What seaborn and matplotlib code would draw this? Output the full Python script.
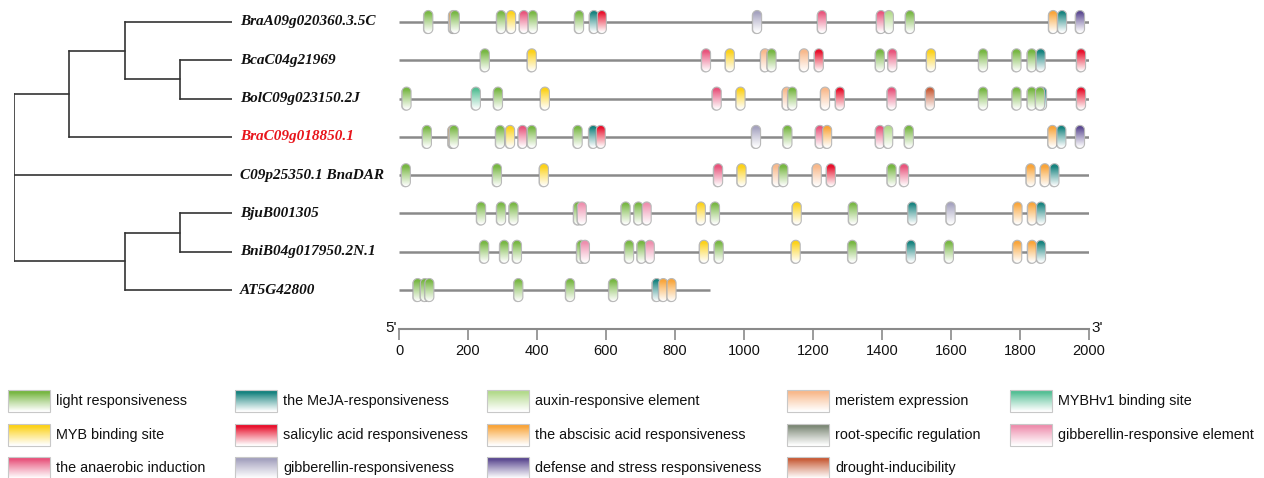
import numpy as np
import matplotlib
matplotlib.use('Agg')
import matplotlib.pyplot as plt
import matplotlib.colors as mcolors
from matplotlib.path import Path
from matplotlib.patches import PathPatch, Rectangle
import seaborn as sns

sns.set_style('white')
plt.rcParams['font.family'] = ['Liberation Sans', 'DejaVu Sans']
plt.rcParams['text.color'] = '#111111'
plt.rcParams['xtick.labelcolor'] = '#111111'

# ------------------------------------------------------------
# data
# ------------------------------------------------------------
genes = ['BraA09g020360.3.5C', 'BcaC04g21969', 'BolC09g023150.2J',
         'BraC09g018850.1', 'C09p25350.1 BnaDAR', 'BjuB001305',
         'BniB04g017950.2N.1', 'AT5G42800']
gene_len = [2000, 2000, 2000, 2000, 2000, 2000, 2000, 900]
label_colors = ['#111111', '#111111', '#111111', '#e8141b',
                '#111111', '#111111', '#111111', '#111111']

elem_keys = ['light', 'MeJA', 'auxin', 'meristem', 'MYBHv1',
             'MYB', 'SA', 'ABA', 'root', 'GAe',
             'anaer', 'GA', 'defense', 'drought']
elem_names = ['light responsiveness', 'the MeJA-responsiveness', 'auxin-responsive element',
              'meristem expression', 'MYBHv1 binding site',
              'MYB binding site', 'salicylic acid responsiveness', 'the abscisic acid responsiveness',
              'root-specific regulation', 'gibberellin-responsive element',
              'the anaerobic induction', 'gibberellin-responsiveness',
              'defense and stress responsiveness', 'drought-inducibility']
elem_colors = ['#78b743', '#17837f', '#b3da8c', '#f8b98c', '#55bf95',
               '#fcd21a', '#e8112d', '#f9a53a', '#7e8a78', '#ee8fae',
               '#e8557d', '#a5a2bf', '#5d4b92', '#c85e3a']

# cis-element positions (bp) and type, per promoter
bra_a09 = [(85, 'light'), (157, 'ABA'), (162, 'light'), (296, 'light'), (325, 'MYB'),
           (362, 'anaer'), (388, 'light'), (522, 'light'), (565, 'MeJA'), (588, 'SA'),
           (1038, 'GA'), (1226, 'anaer'), (1397, 'anaer'), (1420, 'auxin'), (1481, 'light'),
           (1896, 'ABA'), (1922, 'MeJA'), (1974, 'defense')]
bca_c04 = [(249, 'light'), (385, 'MYB'), (890, 'anaer'), (959, 'MYB'), (1061, 'meristem'),
           (1080, 'light'), (1174, 'meristem'), (1217, 'SA'), (1394, 'light'), (1430, 'anaer'),
           (1542, 'MYB'), (1693, 'light'), (1790, 'light'), (1834, 'light'), (1860, 'MeJA'),
           (1977, 'SA')]
bol_c09 = [(22, 'light'), (223, 'MYBHv1'), (287, 'light'), (423, 'MYB'), (921, 'anaer'),
           (990, 'MYB'), (1124, 'meristem'), (1140, 'light'), (1235, 'meristem'), (1278, 'SA'),
           (1428, 'anaer'), (1539, 'drought'), (1693, 'light'), (1790, 'light'), (1834, 'light'),
           (1864, 'MeJA'), (1858, 'light'), (1977, 'SA')]
bra_c09 = [(81, 'light'), (155, 'ABA'), (159, 'light'), (293, 'light'), (322, 'MYB'),
           (358, 'anaer'), (385, 'light'), (518, 'light'), (563, 'MeJA'), (585, 'SA'),
           (1035, 'GA'), (1126, 'light'), (1220, 'anaer'), (1241, 'ABA'), (1394, 'anaer'),
           (1418, 'auxin'), (1478, 'light'), (1894, 'ABA'), (1920, 'MeJA'), (1974, 'defense')]
bna_dar = [(20, 'light'), (284, 'light'), (420, 'MYB'), (925, 'anaer'), (993, 'MYB'),
           (1095, 'meristem'), (1114, 'light'), (1211, 'meristem'), (1252, 'SA'), (1428, 'light'),
           (1464, 'anaer'), (1831, 'ABA'), (1872, 'ABA'), (1900, 'MeJA')]
bju_b = [(238, 'light'), (296, 'light'), (332, 'light'), (519, 'light'), (530, 'GAe'),
         (657, 'light'), (694, 'light'), (718, 'GAe'), (875, 'MYB'), (916, 'light'),
         (1153, 'MYB'), (1316, 'light'), (1488, 'MeJA'), (1599, 'GA'), (1793, 'ABA'),
         (1835, 'ABA'), (1861, 'MeJA')]
bni_b04 = [(247, 'light'), (305, 'light'), (342, 'light'), (528, 'light'), (539, 'GAe'),
           (667, 'light'), (703, 'light'), (727, 'GAe'), (884, 'MYB'), (927, 'light'),
           (1150, 'MYB'), (1314, 'light'), (1484, 'MeJA'), (1594, 'light'), (1792, 'ABA'),
           (1835, 'ABA'), (1861, 'MeJA')]
at5g = [(54, 'light'), (75, 'light'), (88, 'light'), (346, 'light'), (496, 'light'),
        (621, 'light'), (747, 'MeJA'), (766, 'ABA'), (790, 'ABA')]
elements = [bra_a09, bca_c04, bol_c09, bra_c09, bna_dar, bju_b, bni_b04, at5g]

# tree: internal node -> children (int = leaf row), node depth
tree_children = {'root': ['A', 4, 'B'], 'A': ['A1', 3], 'A1': [0, 'A11'],
                 'A11': [1, 2], 'B': ['B1', 7], 'B1': [5, 6]}
tree_depth = {'root': 0, 'A': 55, 'A1': 111, 'A11': 166, 'B': 111, 'B1': 166}
leaf_depth = 218

color_of = dict(zip(elem_keys, elem_colors))

# ------------------------------------------------------------
# layout
# ------------------------------------------------------------
W, H = 1264, 478
fig = plt.figure(figsize=(W / 100, H / 100), dpi=100)

row0_px, row_step = 22, 38.29
axis_px = 329
y_top = -row0_px / row_step
y_bot = (axis_px - row0_px) / row_step
x_left_px, x_right_px = 399, 1089

ax = fig.add_axes([x_left_px / W, (H - axis_px) / H, (x_right_px - x_left_px) / W, axis_px / H])
ax_tree = fig.add_axes([14 / W, (H - axis_px) / H, (232 - 14) / W, axis_px / H])
ax_leg = fig.add_axes([0, 0, 1, (H - 380) / H])

units_per_px_x = 2000 / (x_right_px - x_left_px)
units_per_px_y = 1 / row_step


def gradient(color, n=64):
    rgb = np.array(mcolors.to_rgb(color))
    t = np.linspace(0, 1, n)
    f = np.clip((t - 0.12) / 0.85, 0, 1) ** 0.9
    arr = rgb[None, :] * (1 - f[:, None]) + f[:, None]
    return arr[:, None, :]


def capsule(xc, yc, w_px=9, h_px=23):
    rx = w_px / 2 * units_per_px_x
    ry = w_px / 2 * units_per_px_y
    h = h_px * units_per_px_y
    top_c = yc - h / 2 + ry
    bot_c = yc + h / 2 - ry
    a1 = np.linspace(0, np.pi, 24)
    a2 = np.linspace(np.pi, 2 * np.pi, 24)
    xs = np.concatenate([xc + rx * np.cos(a1), xc + rx * np.cos(a2)])
    ys = np.concatenate([top_c - ry * np.sin(a1), bot_c - ry * np.sin(a2)])
    verts = np.column_stack([xs, ys])
    verts = np.vstack([verts, verts[:1]])
    return Path(verts, closed=True), (xc - rx, xc + rx, yc + h / 2, yc - h / 2)


# ------------------------------------------------------------
# promoter lines and elements
# ------------------------------------------------------------
rows = np.arange(len(genes))
ax.hlines(rows, 0, gene_len, color='#8a8a8a', lw=1.8, zorder=1)

z = 2
for r, elems in enumerate(elements):
    for pos, key in elems:
        shp, _ = capsule(pos - 0.9 * units_per_px_x, r + 0.6 * units_per_px_y)
        ax.add_patch(PathPatch(shp, facecolor='#6a6a6a', edgecolor='none', alpha=0.4, zorder=z))
        path, ext = capsule(pos, r)
        im = ax.imshow(gradient(color_of[key]), extent=ext, aspect='auto',
                       interpolation='bilinear', zorder=z + 0.1)
        patch = PathPatch(path, facecolor='none', edgecolor='#b9b9b9', lw=0.8, zorder=z + 0.2)
        ax.add_patch(patch)
        im.set_clip_path(patch)
        z += 1

ax.set_xlim(0, 2000)
ax.set_ylim(y_bot, y_top)
ax.set_yticks([])
ax.set_xticks(np.arange(0, 2001, 200))
ax.tick_params(axis='x', direction='out', length=8, width=1.2, color='#8a8a8a',
               labelsize=10.5, pad=3, bottom=True)
for s in ['top', 'left', 'right']:
    ax.spines[s].set_visible(False)
ax.spines['bottom'].set_color('#8a8a8a')
ax.spines['bottom'].set_linewidth(1.5)
ax.patch.set_alpha(0)
ax.annotate("5'", xy=(0, 0), xycoords='axes fraction', xytext=(-1.5, 1),
            textcoords='offset points', ha='right', va='center', fontsize=11)
ax.annotate("3'", xy=(1, 0), xycoords='axes fraction', xytext=(1.5, 1),
            textcoords='offset points', ha='left', va='center', fontsize=11)

# ------------------------------------------------------------
# tree
# ------------------------------------------------------------
def node_y(n):
    if isinstance(n, int):
        return float(n)
    ys = [node_y(c) for c in tree_children[n]]
    return (ys[0] + ys[-1]) / 2


def node_x(n):
    return leaf_depth if isinstance(n, int) else tree_depth[n]


for n, kids in tree_children.items():
    x0 = tree_depth[n]
    ys = [node_y(c) for c in kids]
    ax_tree.plot([x0, x0], [min(ys), max(ys)], color='#333333', lw=1.2, solid_capstyle='projecting')
    for c, yc in zip(kids, ys):
        ax_tree.plot([x0, node_x(c)], [yc, yc], color='#333333', lw=1.2)

for r, g in enumerate(genes):
    ax_tree.text(leaf_depth + 8, r, g, ha='left', va='center', fontsize=11,
                 fontweight='bold', fontstyle='italic', family=['Liberation Serif', 'DejaVu Serif'],
                 color=label_colors[r], clip_on=False)
ax_tree.set_xlim(0, leaf_depth)
ax_tree.set_ylim(y_bot, y_top)
ax_tree.axis('off')

# ------------------------------------------------------------
# legend
# ------------------------------------------------------------
leg_col_x = [8, 235, 487, 787, 1010]
leg_row_y = [401, 435, 468]
for i, (name, col) in enumerate(zip(elem_names, elem_colors)):
    x0 = leg_col_x[i % 5]
    yc = leg_row_y[i // 5]
    ax_leg.imshow(gradient(col), extent=(x0, x0 + 42, yc + 11, yc - 11), aspect='auto',
                  interpolation='bilinear', zorder=2)
    ax_leg.add_patch(Rectangle((x0, yc - 11), 42, 22, facecolor='none', edgecolor='#c8c8c8',
                               lw=0.8, zorder=3))
    ax_leg.text(x0 + 48, yc, name, ha='left', va='center', fontsize=10.4)
ax_leg.set_xlim(0, W)
ax_leg.set_ylim(H, 380)
ax_leg.axis('off')

fig.savefig('out.png', dpi=100)
